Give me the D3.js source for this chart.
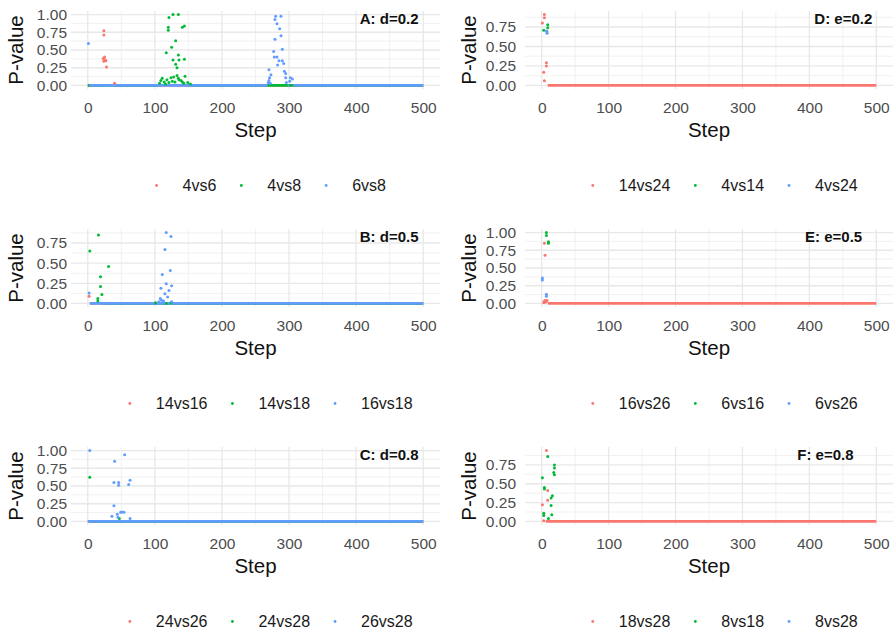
<!DOCTYPE html>
<html>
<head>
<meta charset="utf-8">
<script src="https://cdn.jsdelivr.net/npm/d3@7"></script>
<style>
body{margin:0;background:#fff;}
svg{display:block;font-family:"Liberation Sans",Arial,sans-serif;}
</style>
</head>
<body>
<svg id="chart" width="894" height="632"></svg>
<script>
// ---- data ----
var panelLabels=["A: d=0.2","B: d=0.5","C: d=0.8","D: e=0.2","E: e=0.5","F: e=0.8"];
var labelSteps=[493,493,493,494,479,466];   // where each panel label ends (step units)
var xTicks=[0,100,200,300,400,500];
var yTicks=[0,0.25,0.5,0.75,1];
var colors=["#F8766D","#00BA38","#619CFF"];

// series names for each panel (red, green, blue)
var seriesA=["4vs6","4vs8","6vs8"];
var seriesB=["14vs16","14vs18","16vs18"];
var seriesC=["24vs26","24vs28","26vs28"];
var seriesD=["14vs24","4vs14","4vs24"];
var seriesE=["16vs26","6vs16","6vs26"];
var seriesF=["18vs28","8vs18","8vs28"];

// scattered points: [step, p-value, series index]
var pointsA=[
 [24,0.77,0],[24,0.71,0],[23,0.38,0],[25,0.40,0],[26,0.36,0],[27,0.35,0],[24,0.34,0],[28,0.26,0],[40,0.03,0],
 [121,0.96,1],[127,1.00,1],[135,1.00,1],[120,0.82,1],[120,0.78,1],[141,0.82,1],[144,0.84,1],[131,0.63,1],
 [125,0.54,1],[117,0.46,1],[135,0.43,1],[127,0.36,1],[136,0.36,1],[144,0.37,1],[131,0.30,1],[133,0.25,1],
 [107,0.03,1],[109,0.07,1],[111,0.10,1],[114,0.05,1],[116,0.02,1],[118,0.08,1],[121,0.04,1],[124,0.11,1],
 [126,0.06,1],[128,0.12,1],[130,0.05,1],[133,0.14,1],[135,0.10,1],[136,0.08,1],[139,0.07,1],[141,0.05,1],
 [143,0.03,1],[145,0.13,1],[149,0.04,1],[153,0.02,1],
 [1,0.59,2],[280,0.975,2],[288,0.975,2],[279,0.93,2],[282,0.87,2],[286,0.80,2],[288,0.70,2],[279,0.65,2],
 [290,0.51,2],[277,0.48,2],[278,0.40,2],[282,0.40,2],[285,0.35,2],[290,0.35,2],[283,0.29,2],[292,0.31,2],
 [270,0.22,2],[293,0.20,2],[295,0.17,2],[273,0.15,2],[271,0.11,2],[270,0.07,2],[295,0.11,2],[302,0.11,2],
 [305,0.09,2],[301,0.06,2],[269,0.04,2],[272,0.03,2],[296,0.04,2]
];
var pointsB=[
 [2,0.09,0],
 [16,0.85,1],[3,0.65,1],[31,0.46,1],[19,0.33,1],[19,0.21,1],[21,0.11,1],[15,0.06,1],[15,0.03,1],[101,0.01,1],[117,0.00,1],[124,0.01,1],
 [2,0.13,2],[117,0.88,2],[124,0.83,2],[115,0.67,2],[123,0.41,2],[111,0.36,2],[117,0.245,2],[125,0.22,2],
 [109,0.19,2],[121,0.16,2],[115,0.12,2],[119,0.08,2],[108,0.06,2],[110,0.04,2],[125,0.02,2],[106,0.02,2],[113,0.03,2]
];
var pointsC=[
 [3,0.625,1],[47,0.04,1],
 [3,1.00,2],[55,0.94,2],[40,0.85,2],[39,0.55,2],[46,0.55,2],[46,0.51,2],[63,0.58,2],[61,0.52,2],[39,0.22,2],
 [36,0.075,2],[44,0.10,2],[49,0.13,2],[51,0.135,2],[54,0.13,2],[45,0.06,2],[63,0.04,2]
];
var pointsD=[
 [4,0.91,0],[4,0.87,0],[1,0.80,0],[7,0.29,0],[7,0.25,0],[3,0.17,0],[4,0.06,0],
 [9,0.78,1],[9,0.74,1],[3,0.71,1],
 [8,0.69,2],[8,0.67,2],[7,0.70,2]
];
var pointsE=[
 [4,0.85,0],[5,0.68,0],[3,0.01,0],[4,0.03,0],[5,0.04,0],[6,0.02,0],[8,0.04,0],
 [7,1.00,1],[7,0.96,1],[10,0.87,1],[10,0.85,1],
 [1,0.36,2],[1,0.33,2],[7,0.13,2],[7,0.10,2]
];
var pointsF=[
 [7,0.94,0],[9,0.41,0],[9,0.28,0],[1,0.22,0],[3,0.01,0],
 [9,0.86,1],[19,0.75,1],[19,0.71,1],[18,0.65,1],[19,0.62,1],[1,0.58,1],[4,0.45,1],[4,0.43,1],[16,0.34,1],
 [14,0.31,1],[14,0.21,1],[3,0.11,1],[3,0.08,1],[15,0.09,1],[10,0.04,1]
];

// runs of steps where a series sits at p = 0: [series index, first step, last step]
var zeroA=[[0,0,22],[0,42,500],[1,0,105],[1,155,500],[2,2,268],[2,298,300],[2,306,500]];
var zeroB=[[0,3,500],[1,22,500],[2,3,500]];
var zeroC=[[0,0,500],[1,4,500],[2,0,500]];
var zeroD=[[0,9,500]];
var zeroE=[[0,9,500]];
var zeroF=[[0,6,500]];

var panels=[
 {names:seriesA,points:pointsA,zeros:zeroA},
 {names:seriesB,points:pointsB,zeros:zeroB},
 {names:seriesC,points:pointsC,zeros:zeroC},
 {names:seriesD,points:pointsD,zeros:zeroD},
 {names:seriesE,points:pointsE,zeros:zeroE},
 {names:seriesF,points:pointsF,zeros:zeroF}
];

// ---- layout ----
var cols=[{left:71,right:440,tickPad:4,titleX:16},{left:525,right:893,tickPad:9,titleX:469}];
var rowTops=[11,229,447];
var panelH=78;

var svg=d3.select("#chart");
svg.append("rect").attr("width",894).attr("height",632).attr("fill","#fff");

panels.forEach(function(pan,i){
  var col=cols[Math.floor(i/3)];
  var top=rowTops[i%3], bottom=top+panelH;
  var x=d3.scaleLinear().domain([-25,525]).range([col.left,col.right]);
  var pmax=d3.max(pan.points,d=>d[1]);
  var y=d3.scaleLinear().domain([-0.05*pmax,pmax*1.05]).range([bottom,top]);
  var yd=y.domain();
  var g=svg.append("g");

  // grid
  var xMinor=xTicks.slice(1).map((t,k)=>(t+xTicks[k])/2);
  var yMinor=yTicks.slice(1).map((t,k)=>(t+yTicks[k])/2).concat([1.125]).filter(v=>v>=yd[0]&&v<=yd[1]);
  var yMajor=yTicks.filter(v=>v>=yd[0]&&v<=yd[1]);
  g.selectAll(".gxm").data(xMinor).join("line")
    .attr("x1",d=>x(d)).attr("x2",d=>x(d)).attr("y1",top).attr("y2",bottom)
    .attr("stroke","#EEEEEE").attr("stroke-width",0.8);
  g.selectAll(".gym").data(yMinor).join("line")
    .attr("x1",col.left).attr("x2",col.right).attr("y1",d=>y(d)).attr("y2",d=>y(d))
    .attr("stroke","#EEEEEE").attr("stroke-width",0.8);
  g.append("g").selectAll("line").data(xTicks).join("line")
    .attr("x1",d=>x(d)).attr("x2",d=>x(d)).attr("y1",top).attr("y2",bottom)
    .attr("stroke","#E8E8E8").attr("stroke-width",1.3);
  g.append("g").selectAll("line").data(yMajor).join("line")
    .attr("x1",col.left).attr("x2",col.right).attr("y1",d=>y(d)).attr("y2",d=>y(d))
    .attr("stroke","#E8E8E8").attr("stroke-width",1.3);

  // axes (labels only)
  var xa=g.append("g").attr("transform","translate(0,"+bottom+")")
    .call(d3.axisBottom(x).tickValues(xTicks).tickFormat(d3.format("d")).tickSize(0).tickPadding(12.5));
  var ya=g.append("g").attr("transform","translate("+col.left+",0)")
    .call(d3.axisLeft(y).tickValues(yMajor).tickFormat(d3.format(".2f")).tickSize(0).tickPadding(col.tickPad));
  [xa,ya].forEach(function(a){
    a.select(".domain").remove();
    a.selectAll("text").attr("fill","#4D4D4D").style("font-size","15.5px")
      .style("font-family","'Liberation Sans',Arial,sans-serif");
  });

  // zero runs, then scattered points
  g.append("g").selectAll("line").data(pan.zeros).join("line")
    .attr("x1",d=>x(d[1])).attr("x2",d=>x(d[2])).attr("y1",y(0)).attr("y2",y(0))
    .attr("stroke",d=>colors[d[0]]).attr("stroke-width",2.8).attr("stroke-linecap","butt");
  g.append("g").selectAll("circle").data(pan.points.slice().sort((a,b)=>a[2]-b[2])).join("circle")
    .attr("cx",d=>x(d[0])).attr("cy",d=>y(d[1])).attr("r",1.5)
    .attr("fill",d=>colors[d[2]]);

  // panel label
  g.append("text").attr("x",x(labelSteps[i])).attr("y",top+13).attr("text-anchor","end")
    .style("font-size","15px").style("font-weight","bold").attr("fill","#111")
    .text(panelLabels[i]);

  // axis titles
  g.append("text").attr("x",(col.left+col.right)/2).attr("y",bottom+48).attr("text-anchor","middle")
    .style("font-size","20.5px").attr("fill","#111").text("Step");
  g.append("text").attr("transform","translate("+col.titleX+","+(top+panelH/2)+") rotate(-90)")
    .attr("text-anchor","middle").attr("dy","0.35em")
    .style("font-size","20.5px").attr("fill","#111").text("P-value");

  // legend
  var lg=g.append("g").attr("transform","translate(0,"+(bottom+96.5)+")");
  var cx=0, items=[];
  pan.names.forEach(function(n,k){
    var t=lg.append("text").attr("dy","0.35em").style("font-size","16px").attr("fill","#1A1A1A").text(n);
    var w=t.node().getComputedTextLength();
    items.push({t:t,key:cx,w:w,k:k});
    cx+=26+w+25;
  });
  var total=cx-25+8.5;
  var start=col.left+196-total/2+8.5;
  items.forEach(function(it){
    lg.append("circle").attr("cx",start+it.key).attr("cy",0).attr("r",1.4).attr("fill",colors[it.k]);
    it.t.attr("x",start+it.key+26);
  });
});
</script>
</body>
</html>
